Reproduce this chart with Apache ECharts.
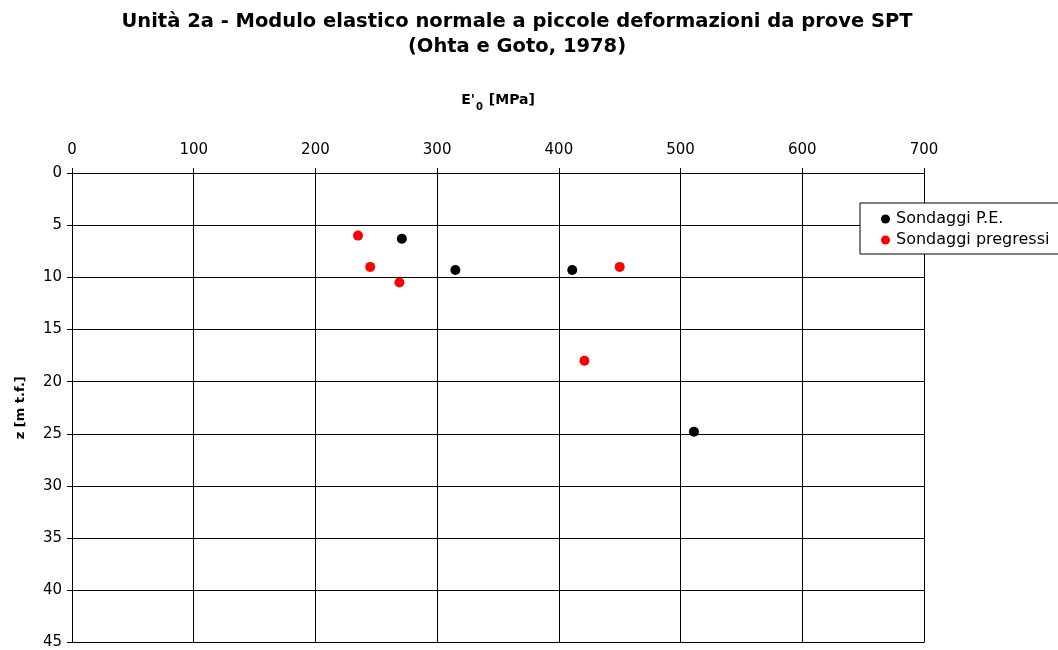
<!DOCTYPE html>
<html>
<head>
<meta charset="utf-8">
<script src="https://cdn.jsdelivr.net/npm/echarts@6/dist/echarts.min.js"></script>
<style>
  html, body { margin: 0; padding: 0; background: #fff; }
  #chart { width: 1058px; height: 650px; }
</style>
</head>
<body>
<div id="chart"></div>
<script>
// E'0 [MPa] vs depth z [m t.f.]
const seriesNames = ['Sondaggi P.E.', 'Sondaggi pregressi'];
const peModulus = [271, 315, 411, 511];
const peDepth = [6.3, 9.3, 9.3, 24.8];
const oldModulus = [235, 245, 269, 450, 421];
const oldDepth = [6.0, 9.0, 10.5, 9.0, 18.0];
const xTicks = [0, 100, 200, 300, 400, 500, 600, 700];
const zTicks = [0, 5, 10, 15, 20, 25, 30, 35, 40, 45];

const font = 'DejaVu Sans, Liberation Sans, Arial, sans-serif';
const pairs = (xs, ys) => xs.map((v, i) => [v, ys[i]]);

const chart = echarts.init(document.getElementById('chart'), null, { renderer: 'canvas' });
chart.setOption({
  animation: false,
  backgroundColor: '#fff',
  title: {
    text: 'Unità 2a - Modulo elastico normale a piccole deformazioni da prove SPT\n(Ohta e Goto, 1978)',
    left: 512,
    textAlign: 'center',
    top: 4,
    textStyle: { fontFamily: font, fontSize: 19.5, fontWeight: 'bold', color: '#000', lineHeight: 25 }
  },
  legend: {
    orient: 'vertical',
    left: 860,
    top: 203,
    data: seriesNames,
    icon: 'circle',
    itemWidth: 9,
    itemHeight: 9,
    itemGap: 5,
    padding: [8, 60, 6, 21],
    borderColor: '#000',
    borderWidth: 1,
    backgroundColor: '#fff',
    textStyle: { fontFamily: font, fontSize: 16, color: '#000', padding: [0, 0, 0, 1] }
  },
  grid: { left: 72, top: 173, right: 134, bottom: 5, containLabel: false },
  xAxis: {
    type: 'value',
    position: 'top',
    min: xTicks[0],
    max: xTicks[xTicks.length - 1],
    interval: 100,
    name: "{b|E'}{s|0}{b| [MPa]}",
    nameLocation: 'middle',
    nameGap: 66,
    nameTextStyle: {
      rich: {
        b: { fontFamily: font, fontSize: 14, fontWeight: 'bold', color: '#000' },
        s: { fontFamily: font, fontSize: 10, fontWeight: 'bold', color: '#000', verticalAlign: 'bottom', padding: [0, 1, -5, 1] }
      }
    },
    axisLine: { show: true, lineStyle: { color: '#000', width: 1 } },
    axisTick: { show: true, inside: false, length: 5, lineStyle: { color: '#000' } },
    axisLabel: { fontFamily: font, fontSize: 15, color: '#000', margin: 15 },
    splitLine: { show: true, lineStyle: { color: '#000', width: 1 } }
  },
  yAxis: {
    type: 'value',
    inverse: true,
    min: zTicks[0],
    max: zTicks[zTicks.length - 1],
    interval: 5,
    name: 'z [m t.f.]',
    nameLocation: 'middle',
    nameGap: 45,
    nameTextStyle: { fontFamily: font, fontSize: 13, fontWeight: 'bold', color: '#000' },
    axisLine: { show: true, lineStyle: { color: '#000', width: 1 } },
    axisTick: { show: true, inside: false, length: 5, lineStyle: { color: '#000' } },
    axisLabel: { fontFamily: font, fontSize: 15, color: '#000', margin: 10 },
    splitLine: { show: true, lineStyle: { color: '#000', width: 1 } }
  },
  series: [
    {
      name: seriesNames[0],
      type: 'scatter',
      symbol: 'circle',
      symbolSize: 10,
      itemStyle: { color: '#000', opacity: 1 },
      data: pairs(peModulus, peDepth)
    },
    {
      name: seriesNames[1],
      type: 'scatter',
      symbol: 'circle',
      symbolSize: 10,
      itemStyle: { color: '#ff0000', opacity: 1 },
      data: pairs(oldModulus, oldDepth)
    }
  ]
});
</script>
</body>
</html>
